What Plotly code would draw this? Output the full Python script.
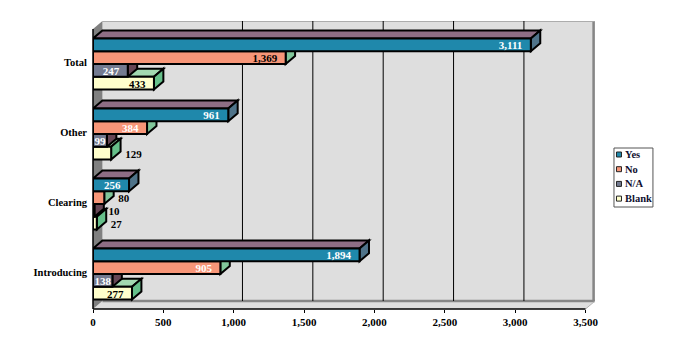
import plotly.graph_objects as go

categories = ["Introducing", "Clearing", "Other", "Total"]
series_names = ["Blank", "N/A", "No", "Yes"]  # bottom to top within a group
blank = [277, 27, 129, 433]
na = [138, 10, 99, 247]
no = [905, 80, 384, 1369]
yes = [1894, 256, 961, 3111]
series_values = [blank, na, no, yes]
front_colors = ["#ffffcc", "#737a90", "#f79678", "#1f88ab"]
top_colors = ["#a3d9b1", "#664655", "#a3d9b1", "#8e6e85"]
side_colors = ["#66bf8a", "#664655", "#80c69a", "#4f7389"]
label_colors = [
    ["black", "black", "black", "black"],
    ["white", "black", "white", "white"],
    ["white", "black", "white", "black"],
    ["white", "white", "white", "white"],
]
label_outside = [
    [False, True, True, False],
    [False, True, False, False],
    [False, True, False, False],
    [False, False, False, False],
]
x_ticks = [0, 500, 1000, 1500, 2000, 2500, 3000, 3500]
grid_values = [1000, 1500, 2000, 2500, 3000]
legend_names = ["Yes", "No", "N/A", "Blank"]
legend_colors = ["#1f88ab", "#f79678", "#737a90", "#ffffcc"]

FONT = "Liberation Serif"
DX = 67.0     # depth in x units
DY = 0.114    # depth in y units
XMAX = 3500
YLOW = -0.5
YHIGH = 3.5
BARGAP = 0.27
BW = (1 - BARGAP) / 4
W = 677
H = 352
L, R, T, B = 92.5, W - 595, 21, H - 309


def poly(points):
    return "M " + " L ".join(f"{a},{b}" for a, b in points) + " Z"


shapes = []
shapes.append(dict(type="path", layer="below", xref="x", yref="y", line=dict(width=0), fillcolor="#dedede",
                   path=poly([(0, YLOW), (XMAX, YLOW), (XMAX + DX, YLOW + DY), (XMAX + DX, YHIGH + DY), (DX, YHIGH + DY), (DX, YLOW + DY)])))
shapes.append(dict(type="path", layer="below", xref="x", yref="y", line=dict(width=0), fillcolor="#808080",
                   path=poly([(0, YLOW), (DX, YLOW + DY), (DX, YHIGH + DY), (0, YHIGH)])))
shapes.append(dict(type="line", layer="below", xref="x", yref="y", x0=DX, x1=XMAX + DX, y0=YLOW + DY, y1=YLOW + DY, line=dict(color="#868686", width=2.5)))
shapes.append(dict(type="line", layer="below", xref="x", yref="y", x0=XMAX + DX - 10, x1=XMAX + DX - 10, y0=YLOW + DY, y1=YHIGH + DY, line=dict(color="#868686", width=2.5)))
shapes.append(dict(type="line", layer="below", xref="x", yref="y", x0=DX, x1=XMAX + DX, y0=YHIGH + DY - 0.006, y1=YHIGH + DY - 0.006, line=dict(color="#a8a8a8", width=1)))
shapes.append(dict(type="line", layer="below", xref="x", yref="y", x0=XMAX, x1=XMAX + DX, y0=YLOW, y1=YLOW + DY, line=dict(color="#b0b0b0", width=1)))
for g in grid_values:
    shapes.append(dict(type="line", layer="below", xref="x", yref="y", x0=g + DX - 5, x1=g + DX - 5,
                       y0=YLOW + DY, y1=YHIGH + DY, line=dict(color="black", width=1)))
for s, values in enumerate(series_values):
    for i, v in enumerate(values):
        y0 = i - 2 * BW + s * BW
        y1 = y0 + BW
        shapes.append(dict(type="path", layer="below", xref="x", yref="y", line=dict(color="black", width=2),
                           fillcolor=top_colors[s], path=poly([(0, y1), (DX, y1 + DY), (v + DX, y1 + DY), (v, y1)])))
        shapes.append(dict(type="path", layer="below", xref="x", yref="y", line=dict(color="black", width=2),
                           fillcolor=side_colors[s], path=poly([(v, y0), (v + DX, y0 + DY), (v + DX, y1 + DY), (v, y1)])))
shapes.append(dict(type="line", xref="x", yref="paper", x0=0, x1=XMAX, y0=0, y1=0, line=dict(color="black", width=1.5)))
shapes.append(dict(type="line", xref="paper", yref="y", x0=0, x1=0, y0=YLOW, y1=YHIGH, line=dict(color="black", width=1.5)))

fig = go.Figure()
for s, values in enumerate(series_values):
    fig.add_trace(go.Bar(
        name=series_names[s], orientation="h", y=list(range(len(categories))), x=values,
        marker=dict(color=front_colors[s], line=dict(color="black", width=2)),
        showlegend=False, hoverinfo="skip",
    ))

for s, values in enumerate(series_values):
    xs, ys, pos = [], [], []
    for i, v in enumerate(values):
        ys.append(i - 2 * BW + s * BW + BW / 2 - 0.025)
        if label_outside[s][i]:
            xs.append(v + 100)
            pos.append("middle right")
        elif v > 150:
            xs.append(v - 60)
            pos.append("middle left")
        else:
            xs.append(v / 2)
            pos.append("middle center")
    fig.add_trace(go.Scatter(
        x=xs, y=ys, mode="text", text=[f"{v:,}" for v in values], textposition=pos,
        textfont=dict(family=FONT, size=11, color=label_colors[s], weight="bold"),
        showlegend=False, hoverinfo="skip",
    ))

annotations = []
legend_shapes = [dict(type="rect", xref="paper", yref="paper", layer="above",
                      x0=(614 - L) / (W - L - R), x1=(653 - L) / (W - L - R),
                      y0=(309 - 207) / (309 - T), y1=(309 - 148) / (309 - T),
                      fillcolor="white", line=dict(color="#555555", width=1))]
for k, name in enumerate(legend_names):
    cy = 154.5 + k * 14.7
    legend_shapes.append(dict(type="rect", xref="paper", yref="paper", layer="above",
                              x0=(616.5 - L) / (W - L - R), x1=(621.5 - L) / (W - L - R),
                              y0=(309 - cy - 2.5) / (309 - T), y1=(309 - cy + 2.5) / (309 - T),
                              fillcolor=legend_colors[k], line=dict(color="#222222", width=1)))
    annotations.append(dict(xref="paper", yref="paper", x=(624 - L) / (W - L - R), y=(309 - cy) / (309 - T),
                            xanchor="left", yanchor="middle", showarrow=False, text=f"<b>{name}</b>",
                            xshift=-1, font=dict(family=FONT, size=10.5, color="#101030")))

fig.update_layout(
    width=W, height=H, autosize=False,
    margin=dict(l=L, r=R, t=T, b=B, pad=0),
    paper_bgcolor="white", plot_bgcolor="white",
    barmode="group", bargap=BARGAP, bargroupgap=0,
    showlegend=False,
    shapes=shapes + legend_shapes,
    annotations=annotations,
    xaxis=dict(range=[0, XMAX + DX], tickvals=x_ticks, tickformat=",", ticks="outside", ticklen=3, tickwidth=1,
               tickcolor="black", showgrid=False, zeroline=False, showline=False, ticklabelstandoff=0,
               tickfont=dict(family=FONT, size=11, color="black", weight="bold")),
    yaxis=dict(range=[YLOW, YHIGH + DY], tickvals=[i + 0.03 for i in range(len(categories))], ticktext=categories,
               ticks="", ticklabelstandoff=5, showgrid=False, zeroline=False, showline=False,
               tickfont=dict(family=FONT, size=10.5, color="black", weight="bold")),
)

fig.write_html("out.html", post_script="document.body.style.margin='0';", config={"displayModeBar": False})
